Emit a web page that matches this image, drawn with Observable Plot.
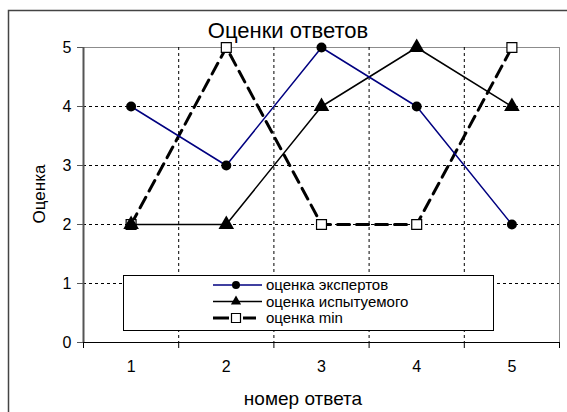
<!DOCTYPE html>
<html>
<head>
<meta charset="utf-8">
<script src="https://cdn.jsdelivr.net/npm/d3@7"></script>
<script src="https://cdn.jsdelivr.net/npm/@observablehq/plot@0.6"></script>
<style>
  html, body { margin: 0; padding: 0; background: white; }
  #chart svg { display: block; }
</style>
</head>
<body>
<div id="chart"></div>
<script>
// Answer numbers and the three sets of scores
const answers = [1, 2, 3, 4, 5];
const expertScores = [4, 3, 5, 4, 2];
const subjectScores = [2, 2, 4, 5, 4];
const minScores = [2, 5, 2, 2, 5];
const yTicks = [0, 1, 2, 3, 4, 5];

const title = "Оценки ответов";
const xLabel = "номер ответа";
const yLabel = "Оценка";
const seriesNames = ["оценка экспертов", "оценка испытуемого", "оценка min"];

const font = "'Liberation Sans', Arial, sans-serif";

const rows = (vals) => answers.map((a, i) => ({answer: a, score: vals[i]}));
const experts = rows(expertScores);
const subject = rows(subjectScores);
const minimum = rows(minScores);

// category boundaries for the vertical grid and tick marks
const bounds = d3.range(answers.length + 1).map(i => answers[0] - 0.5 + i);
const innerBounds = bounds.slice(1, -1);

const chart = Plot.plot({
  width: 567,
  height: 412,
  marginLeft: 83,
  marginRight: 8,
  marginTop: 47,
  marginBottom: 70,
  style: {fontFamily: font, fontSize: "16px", background: "white", color: "black", overflow: "visible"},
  x: {domain: [bounds[0], bounds[bounds.length - 1]], axis: null},
  y: {domain: [0, 5], axis: null},
  marks: [
    Plot.frame({stroke: "#8c8c8c"}),
    Plot.ruleY(yTicks.slice(1, -1), {stroke: "black", strokeWidth: 1, strokeDasharray: "3,3"}),
    Plot.ruleX(innerBounds, {stroke: "black", strokeWidth: 1, strokeDasharray: "3,3"}),
    // axes
    Plot.axisY(yTicks, {tickSize: 6, tickPadding: 6, tickFormat: d => d, stroke: "#555", fontSize: 16, label: null}),
    Plot.axisX(bounds, {tickSize: 6, tickFormat: () => "", stroke: "black", label: null}),
    Plot.axisX(answers, {tickSize: 0, tickPadding: 18, tickFormat: d => d, fontSize: 16, label: null}),
    Plot.ruleX([bounds[0]], {stroke: "#555", strokeWidth: 2}),
    Plot.ruleY([0], {stroke: "black", strokeWidth: 1.2}),
    // series lines
    Plot.line(minimum, {x: "answer", y: "score", stroke: "black", strokeWidth: 3, strokeDasharray: "12,7"}),
    Plot.line(subject, {x: "answer", y: "score", stroke: "black", strokeWidth: 1.5}),
    Plot.line(experts, {x: "answer", y: "score", stroke: "#000080", strokeWidth: 1.5}),
    // markers
    Plot.dot(minimum, {x: "answer", y: "score", symbol: "square", r: 5.6, fill: "white", stroke: "black", strokeWidth: 1.2}),
    Plot.dot(subject, {x: "answer", y: "score", symbol: "triangle", r: 5.8, fill: "black", stroke: "none"}),
    Plot.dot(experts, {x: "answer", y: "score", symbol: "circle", r: 5, fill: "black", stroke: "none"})
  ]
});

document.getElementById("chart").appendChild(chart);

const svg = d3.select(chart);

// outer chart border
svg.insert("rect", ":first-child")
  .attr("x", 8.5).attr("y", 10.5).attr("width", 700).attr("height", 600)
  .attr("fill", "white").attr("stroke", "#444").attr("stroke-width", 1.5);

// title
svg.append("text")
  .attr("x", 288).attr("y", 38)
  .attr("text-anchor", "middle")
  .attr("font-family", font).attr("font-size", 22)
  .text(title);

// axis titles
svg.append("text")
  .attr("x", 303).attr("y", 405)
  .attr("text-anchor", "middle")
  .attr("font-family", font).attr("font-size", 19)
  .text(xLabel);

svg.append("text")
  .attr("transform", "translate(45,194) rotate(-90)")
  .attr("text-anchor", "middle")
  .attr("font-family", font).attr("font-size", 17)
  .text(yLabel);

// legend
const legend = svg.append("g");
legend.append("rect")
  .attr("x", 123.5).attr("y", 275.5).attr("width", 370).attr("height", 55)
  .attr("fill", "white").attr("stroke", "black").attr("stroke-width", 1);

const legendStyles = [
  {stroke: "#000080", width: 1.5, dash: null, x2: 262, symbol: d3.symbolCircle, size: 50, fill: "black", mstroke: "none"},
  {stroke: "black", width: 1.5, dash: null, x2: 262, symbol: d3.symbolTriangle, size: 45, fill: "black", mstroke: "none"},
  {stroke: "black", width: 3, dash: "16,14", x2: 256, symbol: d3.symbolSquare, size: 81, fill: "white", mstroke: "black"}
];
seriesNames.forEach((name, i) => {
  const y = 285 + i * 16.5;
  const s = legendStyles[i];
  legend.append("line")
    .attr("x1", 213).attr("x2", s.x2).attr("y1", y).attr("y2", y)
    .attr("stroke", s.stroke).attr("stroke-width", s.width)
    .attr("stroke-dasharray", s.dash);
  legend.append("path")
    .attr("d", d3.symbol(s.symbol, s.size)())
    .attr("transform", `translate(236,${y})`)
    .attr("fill", s.fill).attr("stroke", s.mstroke).attr("stroke-width", 1.2);
  legend.append("text")
    .attr("x", 266).attr("y", y + 5)
    .attr("text-anchor", "start")
    .attr("font-family", font).attr("font-size", 15)
    .text(name);
});
</script>
</body>
</html>
